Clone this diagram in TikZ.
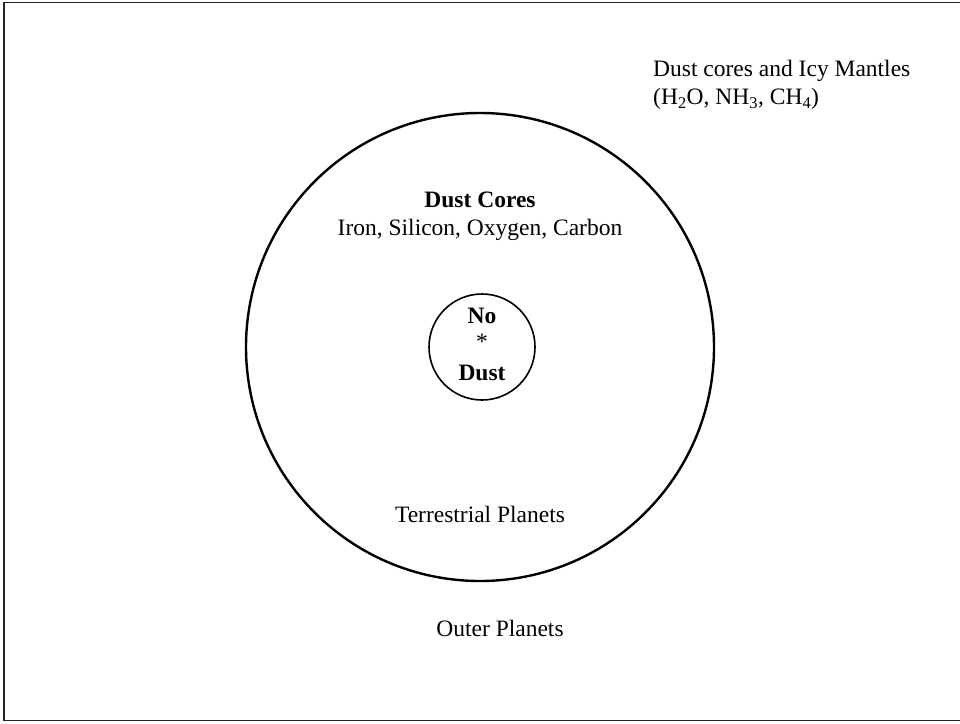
\documentclass[tikz,border=0pt]{standalone}
\usepackage{fontspec}
\setmainfont{Liberation Serif}
\usepackage{tikz}
\usetikzlibrary{positioning}

\begin{document}
\begin{tikzpicture}[
  x=1pt, y=-1pt,
  font=\fontsize{23.5}{28}\selectfont,
  lbl/.style={align=center, inner sep=0pt},
  zone/.style={draw, line width=2.4pt},
]
  \useasboundingbox (0,0) rectangle (960,723);

  % frame (right side runs off the page)
  \draw[line width=1.6pt, black!85] (975,2.5) -- (4,2.5) -- (4,720.5) -- (975,720.5);

  % zones
  \draw[zone] (480,347) circle (234);
  \draw[line width=1.6pt] (482,347) circle (53);

  % inner zone
  \node[lbl, font=\fontsize{23.5}{28}\selectfont\bfseries] (no) at (482,316) {No};
  \node[lbl] (star) at (482,342) {*};
  \node[lbl, font=\fontsize{23.5}{28}\selectfont\bfseries] (dust) at (482,373) {Dust};

  % dust cores zone
  \node[lbl, anchor=base] (cores) at (480,207) {\textbf{Dust Cores}};
  \node[lbl, anchor=base] (elements) at (480,235) {Iron, Silicon, Oxygen, Carbon};
  \node[lbl] (terrestrial) at (480,514) {Terrestrial Planets};

  % outside
  \node[lbl] (outer) at (500,628) {Outer Planets};
  \node[align=left, inner sep=0pt, anchor=north west] (icy) at (653,60)
    {Dust cores and Icy Mantles\\(H\textsubscript{2}O, NH\textsubscript{3}, CH\textsubscript{4})};
\end{tikzpicture}
\end{document}
